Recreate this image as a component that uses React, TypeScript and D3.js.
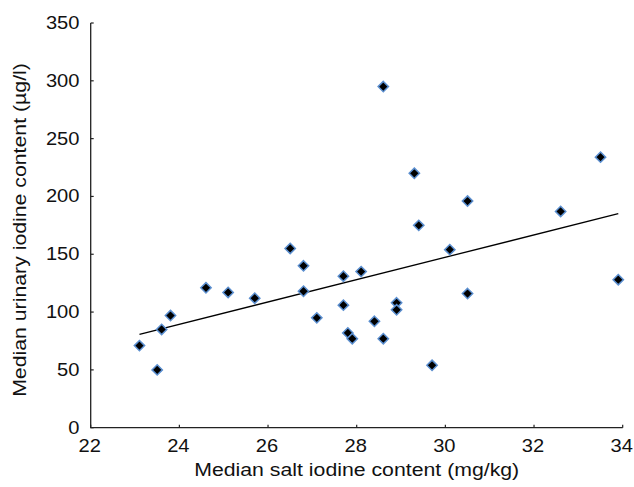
import React from "react";
import * as d3 from "d3";

const saltIodine = [
  23.1, 23.5, 23.6, 23.8, 24.6, 25.1, 25.7, 26.5, 26.8, 26.8,
  27.1, 27.7, 28.1, 27.7, 27.8, 27.9, 28.4, 28.6, 28.9, 28.9,
  29.7, 30.1, 30.5, 33.9, 28.6, 29.3, 30.5, 29.4, 32.6, 33.5,
];
const urinaryIodine = [
  71, 50, 85, 97, 121, 117, 112, 155, 140, 118,
  95, 131, 135, 106, 82, 77, 92, 77, 108, 102,
  54, 154, 116, 128, 295, 220, 196, 175, 187, 234,
];
const xTicks = [22, 24, 26, 28, 30, 32, 34];
const yTicks = [0, 50, 100, 150, 200, 250, 300, 350];
const xTitle = "Median salt iodine content (mg/kg)";
const yTitle = "Median urinary iodine content (\u00b5g/l)";

const W = 634;
const H = 487;
const FONT = "'Liberation Sans', Arial, Helvetica, sans-serif";
const SX = 1.15;

export default function App() {
  const x = d3.scaleLinear().domain([22, 34]).range([90.7, 622.7]);
  const y = d3.scaleLinear().domain([0, 350]).range([427.7, 23]);

  const n = saltIodine.length;
  const mx = d3.mean(saltIodine) as number;
  const my = d3.mean(urinaryIodine) as number;
  let sxy = 0;
  let sxx = 0;
  for (let i = 0; i < n; i++) {
    sxy += (saltIodine[i] - mx) * (urinaryIodine[i] - my);
    sxx += (saltIodine[i] - mx) ** 2;
  }
  const slope = sxy / sxx;
  const icpt = my - slope * mx;
  const [x0, x1] = d3.extent(saltIodine) as [number, number];
  const trend = d3.line<number>()
    .x((d) => x(d))
    .y((d) => y(icpt + slope * d))([x0, x1]);

  const diamond = d3.symbol().type(d3.symbolDiamond2).size(68)();

  return (
    <svg
      width={W}
      height={H}
      style={{ position: "absolute", left: 0, top: 0, background: "#fff" }}
    >
      <g fontFamily={FONT} fill="#111">
        <path
          d={`M${x(22)},${y(350)}V${y(0)}H${x(34)}`}
          fill="none"
          stroke="#222"
          strokeWidth={1.3}
        />
        {yTicks.map((t) => (
          <g key={"y" + t}>
            <line x1={x(22)} x2={x(22) + 3} y1={y(t)} y2={y(t)} stroke="#222" strokeWidth={1.2} />
            <text
              transform={`translate(79.5,${y(t)}) scale(${SX},1)`}
              textAnchor="end"
              dominantBaseline="central"
              fontSize={17.5}
            >
              {t}
            </text>
          </g>
        ))}
        {xTicks.map((t) => (
          <g key={"x" + t}>
            <line x1={x(t)} x2={x(t)} y1={y(0)} y2={y(0) - 3} stroke="#222" strokeWidth={1.2} />
            <text
              transform={`translate(${x(t) - 1},451.5) scale(${SX},1)`}
              textAnchor="middle"
              fontSize={17.5}
            >
              {t}
            </text>
          </g>
        ))}
        <text
          transform={`translate(${(x(22) + x(34)) / 2},475.5) scale(${SX},1)`}
          textAnchor="middle"
          fontSize={18.5}
        >
          {xTitle}
        </text>
        <text
          transform={`translate(26,230) rotate(-90) scale(${SX},1)`}
          textAnchor="middle"
          fontSize={18.5}
        >
          {yTitle}
        </text>

        <path d={trend ?? ""} fill="none" stroke="#000" strokeWidth={1.3} />

        {saltIodine.map((sv, i) => (
          <path
            key={"p" + i}
            d={diamond ?? ""}
            transform={`translate(${x(sv)},${y(urinaryIodine[i])})`}
            fill="#000"
            stroke="#5b8fd0"
            strokeWidth={1.5}
          />
        ))}
      </g>
    </svg>
  );
}
